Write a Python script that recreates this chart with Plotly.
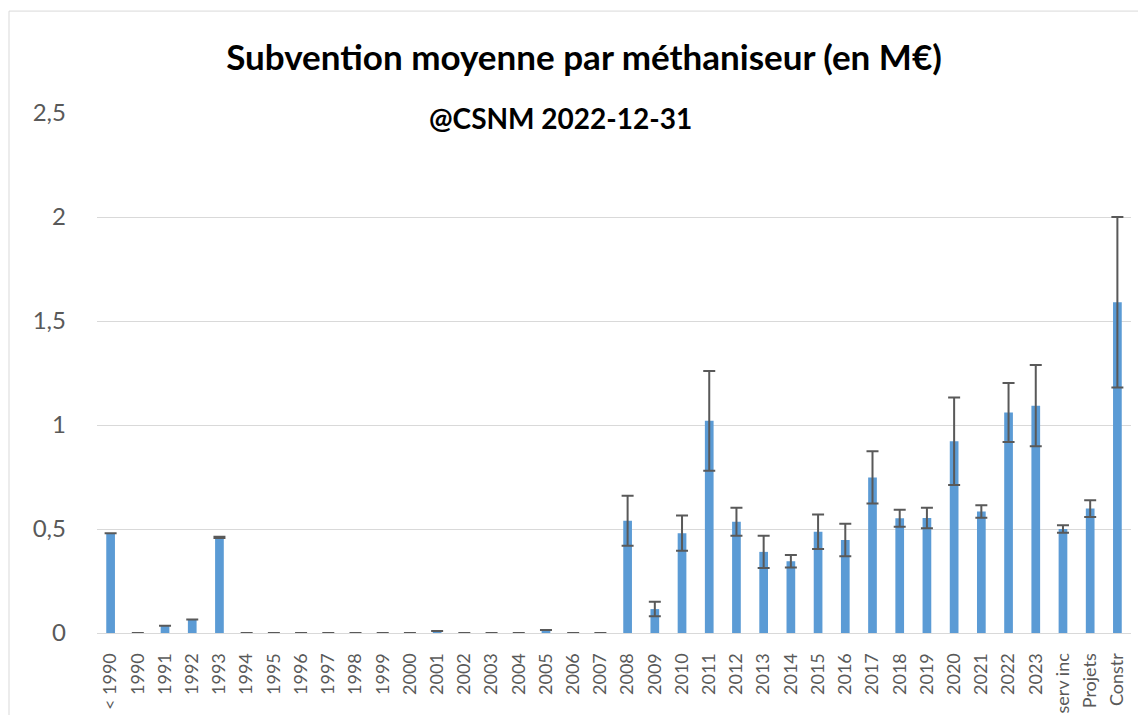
import plotly.graph_objects as go

# categories (x axis)
categories = ["< 1990"] + [str(y) for y in range(1990, 2024)] + ["serv inc", "Projets", "Constr"]

# mean subsidy per digester (M€)
values = [
    0.48,                                   # < 1990
    0, 0.035, 0.065, 0.46,                  # 1990-1993
    0, 0, 0, 0, 0, 0, 0,                    # 1994-2000
    0.01, 0, 0, 0, 0.015, 0, 0,             # 2001-2007
    0.54, 0.115, 0.48, 1.02, 0.535, 0.39,   # 2008-2013
    0.345, 0.487, 0.447, 0.748, 0.552,      # 2014-2018
    0.553, 0.922, 0.584, 1.06, 1.093,       # 2019-2023
    0.50, 0.598, 1.59,                      # serv inc, Projets, Constr
]

# error bar half-lengths
errors = [
    0,
    0, 0, 0, 0.003,
    0, 0, 0, 0, 0, 0, 0,
    0, 0, 0, 0, 0, 0, 0,
    0.12, 0.035, 0.085, 0.24, 0.067, 0.077,
    0.03, 0.083, 0.078, 0.126, 0.041,
    0.049, 0.21, 0.03, 0.142, 0.195,
    0.018, 0.04, 0.41,
]

y_ticks = [0, 0.5, 1, 1.5, 2, 2.5]
y_tick_labels = ["0", "0,5", "1", "1,5", "2", "2,5"]

FONT = "Lato"
GREY = "#595959"

fig = go.Figure()

fig.add_trace(go.Bar(
    x=categories,
    y=values,
    marker=dict(color="#5B9BD5", line=dict(width=0)),
    error_y=dict(type="data", array=errors, visible=True,
                 color=GREY, thickness=2, width=6),
    showlegend=False,
))

# page body has an 8px margin, so the figure is a bit smaller than the window
fig.update_layout(
    width=1138,
    height=707,
    margin=dict(l=89, r=15, t=105, b=82),
    paper_bgcolor="white",
    plot_bgcolor="white",
    bargap=0.68,
    font=dict(family=FONT, color=GREY),
    title=dict(
        text="<b>Subvention moyenne par méthaniseur (en M€)</b>",
        x=576 / 1138, xanchor="center",
        y=1 - 50 / 707, yanchor="middle",
        font=dict(family=FONT, size=35, color="black"),
    ),
    xaxis=dict(
        type="category",
        tickangle=-90,
        tickfont=dict(size=18, color=GREY),
        showline=True,
        linecolor="#d9d9d9",
        linewidth=1,
        showgrid=False,
        ticks="",
        ticklabelstandoff=12,
        automargin=False,
    ),
    yaxis=dict(
        range=[0, 2.5],
        tickvals=y_ticks,
        ticktext=y_tick_labels,
        tickfont=dict(size=24, color=GREY),
        showgrid=True,
        gridcolor="#d9d9d9",
        gridwidth=1,
        zeroline=False,
        showline=False,
        ticks="",
        ticklabelstandoff=30,
        automargin=False,
    ),
)

fig.add_annotation(
    text="<b>@CSNM 2022-12-31</b>",
    xref="paper", yref="paper",
    x=(560 - 97) / 1034, y=(633 - 118) / 520,
    xanchor="center", yanchor="middle",
    showarrow=False,
    font=dict(family=FONT, size=28, color="black"),
)

# light chart frame like the spreadsheet export
fig.add_shape(
    type="rect",
    xref="paper", yref="paper",
    x0=-0.0851, x1=1.05, y0=-0.25, y1=1.196,
    line=dict(color="#d9d9d9", width=1),
    fillcolor="rgba(0,0,0,0)",
    layer="below",
)

fig.write_html("out.html")
